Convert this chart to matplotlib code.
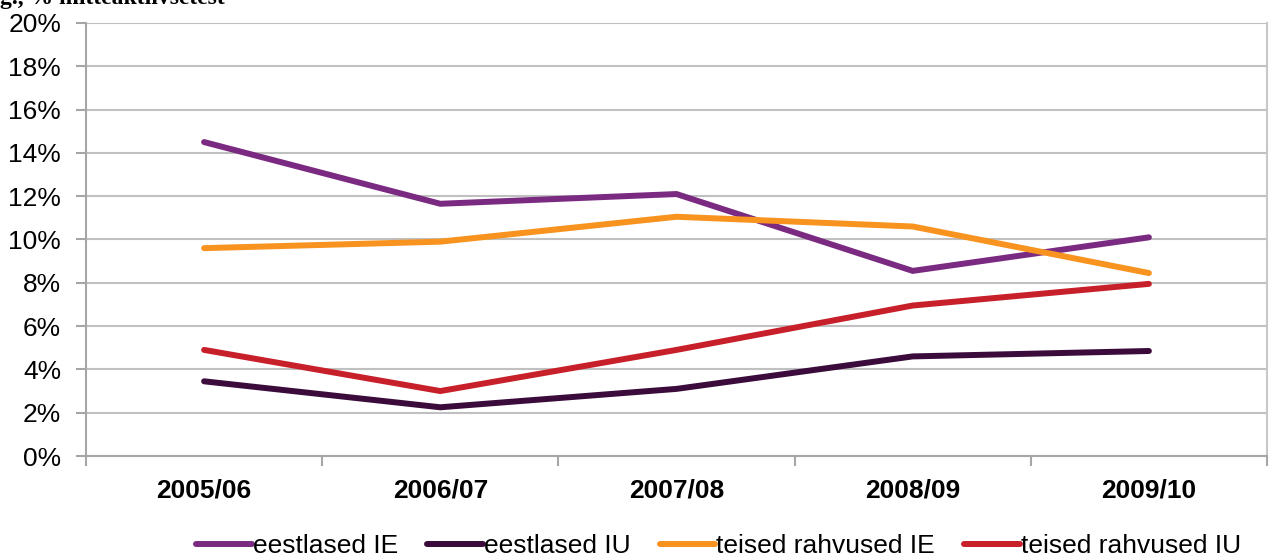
import matplotlib.pyplot as plt
import numpy as np

plt.rcParams['font.family'] = ['Liberation Sans', 'DejaVu Sans']

aastad = ['2005/06', '2006/07', '2007/08', '2008/09', '2009/10']
eestlased_IE = [14.5, 11.65, 12.1, 8.55, 10.1]
eestlased_IU = [3.45, 2.25, 3.1, 4.6, 4.85]
teised_IE = [9.6, 9.9, 11.05, 10.6, 8.45]
teised_IU = [4.9, 3.0, 4.9, 6.95, 7.95]

seeriad = [
    ('eestlased IE', eestlased_IE, '#7b2a82'),
    ('eestlased IU', eestlased_IU, '#3a0b3b'),
    ('teised rahvused IE', teised_IE, '#f7931e'),
    ('teised rahvused IU', teised_IU, '#c8202a'),
]

fig = plt.figure(figsize=(12.72, 5.59), dpi=100)
ax = fig.add_axes([86 / 1272, 1 - 456 / 559, (1267 - 86) / 1272, (456 - 23) / 559])

x = np.arange(len(aastad))
for nimi, y, c in seeriad:
    ax.plot(x, y, color=c, lw=4.3, label=nimi, solid_capstyle='round', solid_joinstyle='miter')

ax.set_xlim(-0.5, len(aastad) - 0.5)
ax.set_ylim(0, 20)
ax.set_yticks(np.arange(0, 21, 2))
ax.set_yticklabels([f'{v}%' for v in range(0, 21, 2)], fontsize=19)
ax.set_xticks(x)
ax.set_xticklabels(aastad, fontsize=19, fontweight='bold')
ax.set_xticks(np.arange(-0.5, len(aastad)), minor=True)
ax.tick_params(axis='x', which='major', length=0, pad=16)
ax.tick_params(axis='x', which='minor', length=7, width=1.5, color='#a6a6a6', direction='out')
ax.tick_params(axis='y', length=7, width=1.5, color='#a6a6a6', pad=11)

ax.grid(axis='y', color='#c0c0c0', lw=1.5)
ax.set_axisbelow(True)
for s in ['left', 'bottom']:
    ax.spines[s].set_color('#a6a6a6')
    ax.spines[s].set_linewidth(1.5)
ax.spines['top'].set_visible(False)
ax.spines['right'].set_color('#c8c8c8')
ax.spines['right'].set_linewidth(1.5)

# pealkiri on originaalis ülevalt ära lõigatud
fig.text(0.0, 1 - 4 / 559, 'g., % mitteaktiivsetest', fontsize=17, fontweight='bold',
         family='Liberation Serif', va='baseline')

fig.legend(loc='center', bbox_to_anchor=(0.565, 1 - 546 / 559), ncol=4, frameon=False,
           fontsize=19, handlelength=2.1, handletextpad=0.05, columnspacing=1.1)

fig.savefig('out.png', dpi=100)
